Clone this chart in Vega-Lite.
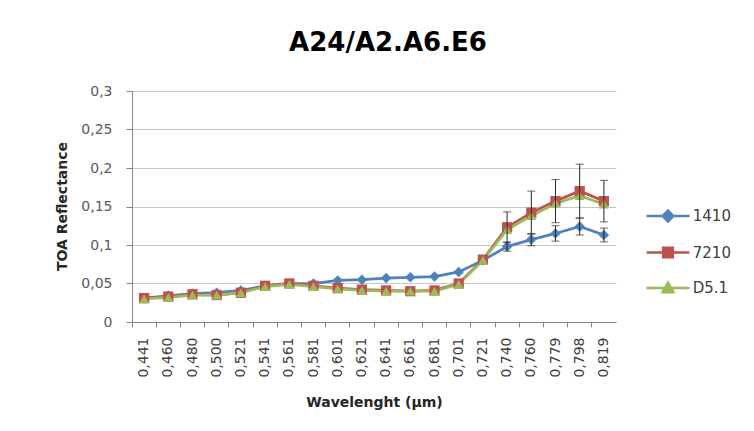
{
  "$schema": "https://vega.github.io/schema/vega-lite/v6.json",
  "width": 484,
  "height": 231,
  "autosize": {"type": "none"},
  "padding": {"left": 132, "top": 91, "right": 138, "bottom": 109},
  "background": "white",
  "title": {"text": "A24/A2.A6.E6", "font": "DejaVu Sans", "fontSize": 26, "fontWeight": "bold", "color": "#000000", "anchor": "middle", "dx": 14, "offset": 7, "baseline": "alphabetic"},
  "config": {
    "view": {"stroke": null},
    "font": "DejaVu Sans",
    "axis": {"domainColor": "#868686", "tickColor": "#868686", "labelFont": "DejaVu Sans", "titleFont": "DejaVu Sans"}
  },
  "datasets": {
    "pts": [
      {"series": "1410", "wl": "0,441", "value": 0.031, "err": 0},
      {"series": "1410", "wl": "0,460", "value": 0.034, "err": 0},
      {"series": "1410", "wl": "0,480", "value": 0.037, "err": 0},
      {"series": "1410", "wl": "0,500", "value": 0.038, "err": 0},
      {"series": "1410", "wl": "0,521", "value": 0.041, "err": 0},
      {"series": "1410", "wl": "0,541", "value": 0.047, "err": 0},
      {"series": "1410", "wl": "0,561", "value": 0.050, "err": 0},
      {"series": "1410", "wl": "0,581", "value": 0.050, "err": 0},
      {"series": "1410", "wl": "0,601", "value": 0.054, "err": 0},
      {"series": "1410", "wl": "0,621", "value": 0.055, "err": 0},
      {"series": "1410", "wl": "0,641", "value": 0.057, "err": 0},
      {"series": "1410", "wl": "0,661", "value": 0.058, "err": 0},
      {"series": "1410", "wl": "0,681", "value": 0.059, "err": 0},
      {"series": "1410", "wl": "0,701", "value": 0.065, "err": 0},
      {"series": "1410", "wl": "0,721", "value": 0.080, "err": 0},
      {"series": "1410", "wl": "0,740", "value": 0.098, "err": 0.006},
      {"series": "1410", "wl": "0,760", "value": 0.107, "err": 0.008},
      {"series": "1410", "wl": "0,779", "value": 0.115, "err": 0.010},
      {"series": "1410", "wl": "0,798", "value": 0.124, "err": 0.011},
      {"series": "1410", "wl": "0,819", "value": 0.113, "err": 0.009},
      {"series": "7210", "wl": "0,441", "value": 0.031, "err": 0},
      {"series": "7210", "wl": "0,460", "value": 0.033, "err": 0},
      {"series": "7210", "wl": "0,480", "value": 0.036, "err": 0},
      {"series": "7210", "wl": "0,500", "value": 0.035, "err": 0},
      {"series": "7210", "wl": "0,521", "value": 0.038, "err": 0},
      {"series": "7210", "wl": "0,541", "value": 0.047, "err": 0},
      {"series": "7210", "wl": "0,561", "value": 0.050, "err": 0},
      {"series": "7210", "wl": "0,581", "value": 0.047, "err": 0},
      {"series": "7210", "wl": "0,601", "value": 0.044, "err": 0},
      {"series": "7210", "wl": "0,621", "value": 0.042, "err": 0},
      {"series": "7210", "wl": "0,641", "value": 0.041, "err": 0},
      {"series": "7210", "wl": "0,661", "value": 0.040, "err": 0},
      {"series": "7210", "wl": "0,681", "value": 0.041, "err": 0},
      {"series": "7210", "wl": "0,701", "value": 0.050, "err": 0},
      {"series": "7210", "wl": "0,721", "value": 0.081, "err": 0},
      {"series": "7210", "wl": "0,740", "value": 0.123, "err": 0.020},
      {"series": "7210", "wl": "0,760", "value": 0.142, "err": 0.028},
      {"series": "7210", "wl": "0,779", "value": 0.157, "err": 0.028},
      {"series": "7210", "wl": "0,798", "value": 0.170, "err": 0.035},
      {"series": "7210", "wl": "0,819", "value": 0.157, "err": 0.027},
      {"series": "D5.1", "wl": "0,441", "value": 0.030, "err": 0},
      {"series": "D5.1", "wl": "0,460", "value": 0.032, "err": 0},
      {"series": "D5.1", "wl": "0,480", "value": 0.035, "err": 0},
      {"series": "D5.1", "wl": "0,500", "value": 0.035, "err": 0},
      {"series": "D5.1", "wl": "0,521", "value": 0.038, "err": 0},
      {"series": "D5.1", "wl": "0,541", "value": 0.046, "err": 0},
      {"series": "D5.1", "wl": "0,561", "value": 0.049, "err": 0},
      {"series": "D5.1", "wl": "0,581", "value": 0.046, "err": 0},
      {"series": "D5.1", "wl": "0,601", "value": 0.043, "err": 0},
      {"series": "D5.1", "wl": "0,621", "value": 0.041, "err": 0},
      {"series": "D5.1", "wl": "0,641", "value": 0.040, "err": 0},
      {"series": "D5.1", "wl": "0,661", "value": 0.040, "err": 0},
      {"series": "D5.1", "wl": "0,681", "value": 0.040, "err": 0},
      {"series": "D5.1", "wl": "0,701", "value": 0.049, "err": 0},
      {"series": "D5.1", "wl": "0,721", "value": 0.080, "err": 0},
      {"series": "D5.1", "wl": "0,740", "value": 0.120, "err": 0},
      {"series": "D5.1", "wl": "0,760", "value": 0.138, "err": 0},
      {"series": "D5.1", "wl": "0,779", "value": 0.154, "err": 0},
      {"series": "D5.1", "wl": "0,798", "value": 0.164, "err": 0},
      {"series": "D5.1", "wl": "0,819", "value": 0.153, "err": 0}
    ]
  },
  "data": {"name": "pts"},
  "resolve": {"axis": {"x": "independent", "y": "independent"}},
  "layer": [
    {
      "mark": {"type": "line", "strokeWidth": 2.75},
      "encoding": {
        "x": {"field": "wl", "type": "ordinal", "sort": null, "scale": {"paddingInner": 0, "paddingOuter": 0},
          "axis": {"orient": "bottom", "title": "Wavelenght (µm)", "titleFontSize": 14, "titleFontWeight": "bold", "titleColor": "#262626", "titleX": 242, "titleY": 80, "titleBaseline": "middle", "titleAnchor": "middle", "labelAngle": -90, "labelFontSize": 14, "labelColor": "#404040", "labelOverlap": false, "ticks": false, "tickSize": 0, "labelPadding": 15, "domainColor": "#868686", "grid": false}},
        "y": {"field": "value", "type": "quantitative", "title": "TOA Reflectance", "scale": {"domain": [0, 0.3], "nice": false},
          "axis": {"orient": "left", "values": [0, 0.05, 0.1, 0.15, 0.2, 0.25, 0.3], "labelOverlap": false, "labelExpr": "replace(format(datum.value, '~g'), '.', ',')", "titleFontSize": 14, "titleFontWeight": "bold", "titleColor": "#262626", "titleAngle": -90, "titleX": -70, "titleY": 115, "titleBaseline": "middle", "titleAnchor": "middle", "labelFontSize": 14, "labelColor": "#595959", "labelPadding": 14, "tickSize": 6, "grid": true, "gridColor": "#c8c8c8", "domainColor": "#868686"}},
        "color": {"field": "series", "type": "nominal", "scale": {"domain": ["1410", "7210", "D5.1"], "range": ["#4F81BD", "#C0504D", "#9BBB59"]},
          "legend": {"title": null, "orient": "none", "legendX": 524, "legendY": 113, "padding": 0, "symbolSize": 462, "rowPadding": 13.5, "labelOffset": 12.75, "labelFontSize": 15, "labelColor": "#404040", "labelFont": "DejaVu Sans",
            "encode": {"symbols": {"update": {
              "shape": {"signal": "datum.value === '1410' ? 'M-2,0H2M0,-0.5L0.5,0L0,0.5L-0.5,0Z' : datum.value === '7210' ? 'M-2,0H2M-0.45,-0.45H0.45V0.45H-0.45Z' : 'M-2,0H2M0,-0.5L0.5,0.4L-0.5,0.4Z'"},
              "size": {"value": 462},
              "fill": {"scale": "color", "field": "value"},
              "stroke": {"scale": "color", "field": "value"},
              "strokeWidth": {"value": 2.5},
              "opacity": {"value": 1}
            }}}}}
      }
    },
    {
      "transform": [{"filter": "datum.series === '1410'"}],
      "mark": {"type": "point", "shape": "diamond", "filled": true, "opacity": 1, "size": 110, "color": "#4F81BD"},
      "encoding": {
        "x": {"field": "wl", "type": "ordinal", "sort": null,
          "axis": {"orient": "bottom", "title": null, "labels": false, "domain": false, "ticks": true, "tickSize": 5, "tickColor": "#868686", "bandPosition": 0, "grid": false}},
        "y": {"field": "value", "type": "quantitative", "axis": null}
      }
    },
    {
      "transform": [{"filter": "datum.series === '7210'"}],
      "mark": {"type": "point", "shape": "square", "filled": true, "opacity": 1, "size": 105, "color": "#C0504D"},
      "encoding": {
        "x": {"field": "wl", "type": "ordinal", "sort": null, "axis": null},
        "y": {"field": "value", "type": "quantitative", "axis": null}
      }
    },
    {
      "transform": [{"filter": "datum.series === 'D5.1'"}],
      "mark": {"type": "point", "shape": "triangle-up", "filled": true, "opacity": 1, "size": 100, "color": "#9BBB59"},
      "encoding": {
        "x": {"field": "wl", "type": "ordinal", "sort": null, "axis": null},
        "y": {"field": "value", "type": "quantitative", "axis": null}
      }
    },
    {
      "transform": [{"filter": "datum.err > 0"}],
      "mark": {"type": "errorbar", "ticks": {"size": 8, "color": "#262626"}, "rule": {"color": "#262626", "strokeWidth": 1}},
      "encoding": {
        "x": {"field": "wl", "type": "ordinal", "sort": null, "axis": null},
        "y": {"field": "value", "type": "quantitative", "axis": null},
        "yError": {"field": "err"},
        "detail": {"field": "series", "type": "nominal"}
      }
    }
  ]
}
